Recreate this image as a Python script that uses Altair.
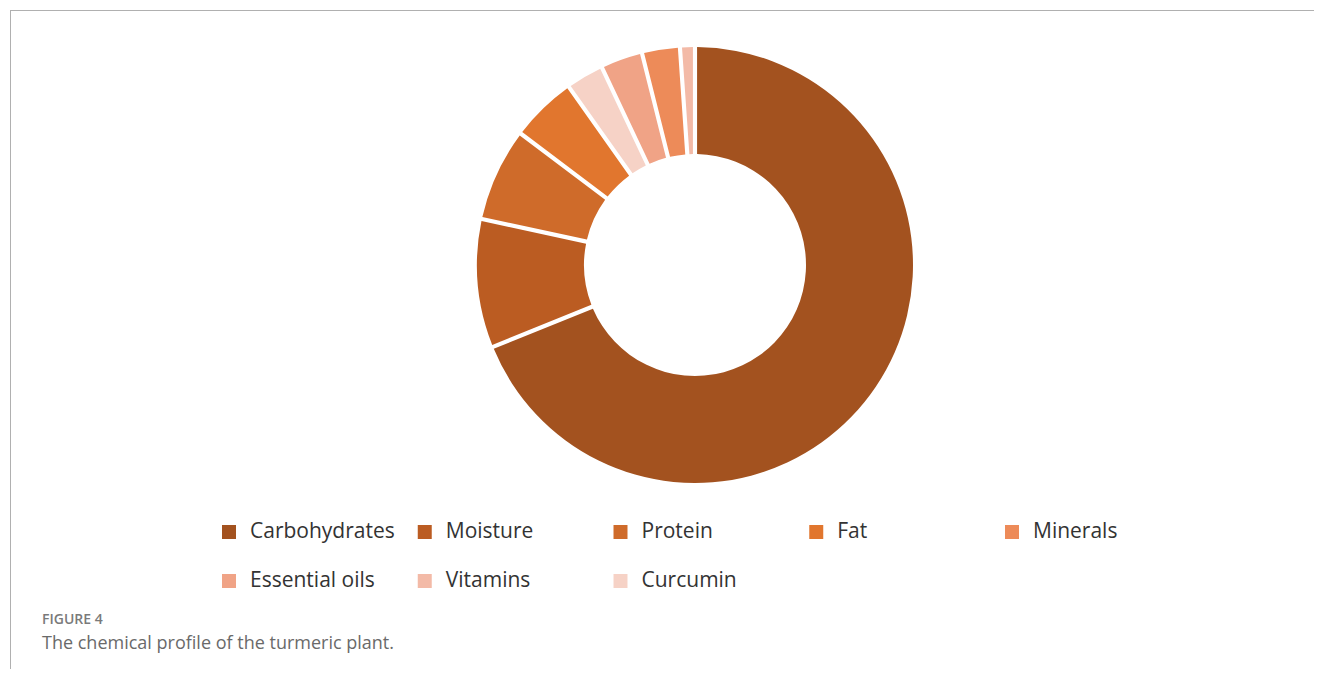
import altair as alt
import pandas as pd

# Data (percent of the whole), in clockwise drawing order
slice_names = ["Carbohydrates", "Moisture", "Protein", "Fat", "Curcumin",
               "Essential oils", "Minerals", "Vitamins"]
slice_values = [68.8, 9.5, 6.9, 4.9, 2.8, 3.1, 2.8, 1.1]

# Legend order and colours
legend_names = ["Carbohydrates", "Moisture", "Protein", "Fat", "Minerals",
                "Essential oils", "Vitamins", "Curcumin"]
legend_colors = ["#a3521f", "#bb5c22", "#cf6b2a", "#e1762e", "#ed8b59",
                 "#f0a386", "#f3baa7", "#f6d2c6"]
legend_cols = [0, 1, 2, 3, 4, 0, 1, 2]
legend_rows = [0, 0, 0, 0, 0, 1, 1, 1]

caption_label = "FIGURE 4"
caption_text = "The chemical profile of the turmeric plant."

W, H = 1306, 661

pie_df = pd.DataFrame({"name": slice_names, "value": slice_values,
                       "ord": list(range(len(slice_names)))})
leg_df = pd.DataFrame({"name": legend_names, "col": legend_cols, "row": legend_rows})

color_scale = alt.Scale(domain=legend_names, range=legend_colors)

donut = alt.Chart(pie_df).mark_arc(
    innerRadius=111, outerRadius=218, padAngle=0.017, stroke=None
).encode(
    theta=alt.Theta("value:Q", stack=True),
    order=alt.Order("ord:Q"),
    color=alt.Color("name:N", scale=color_scale, legend=None),
    x=alt.value(687),
    y=alt.value(257),
)

xs = alt.Scale(domain=[0, 4], range=[221, 1004])
ys = alt.Scale(domain=[0, 1], range=[524, 573])

leg_sq = alt.Chart(leg_df).mark_square(size=196, opacity=1).encode(
    x=alt.X("col:Q", scale=xs, axis=None),
    y=alt.Y("row:Q", scale=ys, axis=None),
    color=alt.Color("name:N", scale=color_scale, legend=None),
)
leg_tx = alt.Chart(leg_df).mark_text(
    align="left", baseline="middle", dx=21, fontSize=21, font="Open Sans",
    color="#333333"
).encode(
    x=alt.X("col:Q", scale=xs, axis=None),
    y=alt.Y("row:Q", scale=ys, axis=None),
    text="name:N",
)

cap_df = pd.DataFrame({"a": [caption_label], "b": [caption_text]})
cap1 = alt.Chart(cap_df).mark_text(
    align="left", baseline="middle", fontSize=14, font="Open Sans",
    fontWeight=600, color="#7a7a7a"
).encode(x=alt.value(34), y=alt.value(612), text="a:N")
cap2 = alt.Chart(cap_df).mark_text(
    align="left", baseline="middle", fontSize=18, font="Open Sans",
    color="#6a6a6a"
).encode(x=alt.value(34), y=alt.value(636), text="b:N")

frame_top = alt.Chart(cap_df).mark_rule(color="#b0b0b0", strokeWidth=1).encode(
    x=alt.value(2), x2=alt.value(W), y=alt.value(2.5))
frame_left = alt.Chart(cap_df).mark_rule(color="#b0b0b0", strokeWidth=1).encode(
    x=alt.value(2.5), y=alt.value(2), y2=alt.value(H))

chart = alt.layer(donut, leg_sq, leg_tx, cap1, cap2, frame_top, frame_left).properties(
    width=W, height=H, padding=0,
    autosize=alt.AutoSizeParams(type="none"),
).configure_view(stroke=None)

chart.save("out.html", embed_options={"renderer": "svg", "actions": False})
